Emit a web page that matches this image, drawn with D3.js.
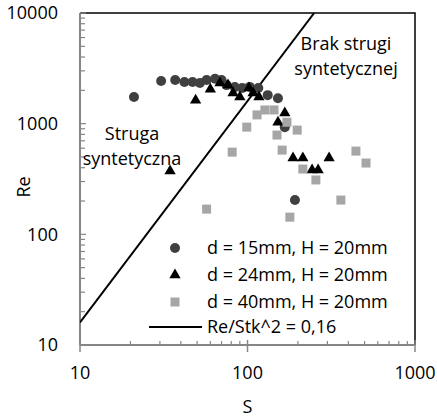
<!DOCTYPE html>
<html>
<head>
<meta charset="utf-8">
<script src="https://cdn.jsdelivr.net/npm/d3@7"></script>
<style>
  body { margin: 0; background: #fff; }
  text { font-family: "Open Sans", sans-serif; fill: #000; }
</style>
</head>
<body>
<div id="chart"></div>
<script>
// data: [S, Re]
var d15 = [[21,1740],[30.5,2430],[37,2480],[42,2380],[47,2380],[52,2330],[57,2480],[64,2550],
  [70,2480],[75,2230],[84,2140],[93,2100],[103,2150],[116,2100],[132,1810],[152,1700],[167,930],[192,204]];
var d24 = [[34.5,373],[49,1630],[60,2050],[68.5,2330],[76.5,2230],[82,1890],[90,1740],[102,2100],
  [108,1890],[117,1740],[152,1030],[167,1250],[187,489],[214,489],[243,381],[264,381],[307,489]];
var d40 = [[57,169],[81,553],[99,931],[114,1200],[127,1330],[144,1330],[150,789],[161,577],
  [172,1030],[198,875],[214,389],[256,310],[179,143],[361,204],[444,565],[510,441]];
var lineK = 0.16;          // Re = 0.16 * S^2
var lineS = [10, 250];
var xTicks = [10, 100, 1000];
var yTicks = [10, 100, 1000, 10000];
var legendLabels = ["d = 15mm, H = 20mm", "d = 24mm, H = 20mm", "d = 40mm, H = 20mm", "Re/Stk^2 = 0,16"];

// dimensions
var margin = {top: 13, right: 22, bottom: 73, left: 80},
  width = 437 - margin.left - margin.right,
  height = 418 - margin.top - margin.bottom;

var svg = d3.select("#chart")
  .append("svg")
  .attr("width", 437)
  .attr("height", 418)
  .append("g")
  .attr("transform", "translate(" + margin.left + "," + margin.top + ")");

var x = d3.scaleLog().domain([10, 1000]).range([0, width]);
var y = d3.scaleLog().domain([10, 10000]).range([height, 0]);

// minor tick values
var minorX = [], minorY = [];
[10, 100].forEach(function(b) { d3.range(2, 10).forEach(function(m) { minorX.push(b * m); }); });
[10, 100, 1000].forEach(function(b) { d3.range(2, 10).forEach(function(m) { minorY.push(b * m); }); });

svg.append("defs").append("clipPath").attr("id", "clip")
  .append("rect").attr("width", width).attr("height", height);

// top / right border
svg.append("path")
  .attr("d", "M0,0H" + width + "V" + height)
  .attr("fill", "none").attr("stroke", "#000").attr("stroke-width", 1.5);

var grey = "#868686";

// y axis: ticks inside
var yAxis = svg.append("g").attr("class", "y-axis");
yAxis.selectAll(".minor").data(minorY).enter().append("line")
  .attr("x1", 0).attr("x2", 5)
  .attr("y1", function(d) { return y(d); }).attr("y2", function(d) { return y(d); })
  .attr("stroke", grey).attr("stroke-width", 1.2);
yAxis.selectAll(".major").data(yTicks).enter().append("line")
  .attr("x1", 0).attr("x2", 6)
  .attr("y1", function(d) { return y(d); }).attr("y2", function(d) { return y(d); })
  .attr("stroke", grey).attr("stroke-width", 1.2);
yAxis.selectAll(".lab").data(yTicks).enter().append("text")
  .attr("x", -22).attr("y", function(d) { return y(d); })
  .attr("dy", "0.36em").attr("text-anchor", "end")
  .style("font-size", "18px")
  .text(function(d) { return d; });

// x axis: minor inside, major crossing
var xAxis = svg.append("g").attr("class", "x-axis");
xAxis.selectAll(".minor").data(minorX).enter().append("line")
  .attr("x1", function(d) { return x(d); }).attr("x2", function(d) { return x(d); })
  .attr("y1", height).attr("y2", height - 4)
  .attr("stroke", grey).attr("stroke-width", 1.2);
xAxis.selectAll(".major").data(xTicks).enter().append("line")
  .attr("x1", function(d) { return x(d); }).attr("x2", function(d) { return x(d); })
  .attr("y1", height - 5).attr("y2", height + 7)
  .attr("stroke", grey).attr("stroke-width", 1.5);
xAxis.selectAll(".lab").data(xTicks).enter().append("text")
  .attr("x", function(d) { return x(d); }).attr("y", height + 28)
  .attr("dy", "0.36em").attr("text-anchor", "middle")
  .style("font-size", "18px")
  .text(function(d) { return d; });

svg.append("line").attr("x1", 0).attr("x2", 0).attr("y1", 0).attr("y2", height)
  .attr("stroke", grey).attr("stroke-width", 2);
svg.append("line").attr("x1", 0).attr("x2", width).attr("y1", height).attr("y2", height)
  .attr("stroke", grey).attr("stroke-width", 2);

// axis titles
svg.append("text").attr("transform", "translate(" + (-56) + "," + (height / 2 + 8) + ") rotate(-90)")
  .attr("text-anchor", "middle").attr("dy", "0.36em").style("font-size", "18px").text("Re");
svg.append("text").attr("x", width / 2).attr("y", height + 62)
  .attr("text-anchor", "middle").attr("dy", "0.36em").style("font-size", "18px").text("S");

var main = svg.append("g").attr("clip-path", "url(#clip)");

// boundary line
var line = d3.line().x(function(d) { return x(d); }).y(function(d) { return y(lineK * d * d); });
main.append("path").datum(lineS).attr("d", line)
  .attr("fill", "none").attr("stroke", "#000").attr("stroke-width", 2);

// markers
var tri = d3.symbol().type(d3.symbolTriangle).size(55);
function drawCircles(g, data) {
  g.selectAll(".c").data(data).enter().append("circle")
    .attr("cx", function(d) { return x(d[0]); }).attr("cy", function(d) { return y(d[1]); })
    .attr("r", 5).attr("fill", "#404040");
}
function drawTris(g, data) {
  g.selectAll(".t").data(data).enter().append("path")
    .attr("d", tri)
    .attr("transform", function(d) { return "translate(" + x(d[0]) + "," + y(d[1]) + ")"; })
    .attr("fill", "#000");
}
function drawSquares(g, data) {
  g.selectAll(".s").data(data).enter().append("rect")
    .attr("x", function(d) { return x(d[0]) - 4.5; }).attr("y", function(d) { return y(d[1]) - 4.5; })
    .attr("width", 9).attr("height", 9).attr("fill", "#a6a6a6");
}
drawCircles(main.append("g"), d15);
drawTris(main.append("g"), d24);
drawSquares(main.append("g"), d40);

// region labels
function multiline(cx, cy, lines) {
  var t = svg.append("text").attr("text-anchor", "middle").style("font-size", "18px");
  lines.forEach(function(l, i) {
    t.append("tspan").attr("x", cx).attr("y", cy + i * 25).text(l);
  });
}
multiline(266, 37, ["Brak strugi", "syntetycznej"]);
multiline(52, 127, ["Struga", "syntetyczna"]);

// legend
var legend = svg.append("g").attr("transform", "translate(95,235)");
var rowH = 27;
legend.append("circle").attr("cx", 0).attr("cy", 0).attr("r", 5).attr("fill", "#404040");
legend.append("path").attr("d", tri).attr("transform", "translate(0," + rowH + ")").attr("fill", "#000");
legend.append("rect").attr("x", -4.5).attr("y", 2 * rowH - 4.5).attr("width", 9).attr("height", 9).attr("fill", "#a6a6a6");
legend.append("line").attr("x1", -26).attr("x2", 27).attr("y1", 3 * rowH - 2).attr("y2", 3 * rowH - 2)
  .attr("stroke", "#000").attr("stroke-width", 2);
legend.selectAll(".lt").data(legendLabels).enter().append("text")
  .attr("x", 32).attr("y", function(d, i) { return i * rowH - (i == 3 ? 2 : 0); })
  .attr("dy", "0.36em").style("font-size", "18px")
  .text(function(d) { return d; });
</script>
</body>
</html>
